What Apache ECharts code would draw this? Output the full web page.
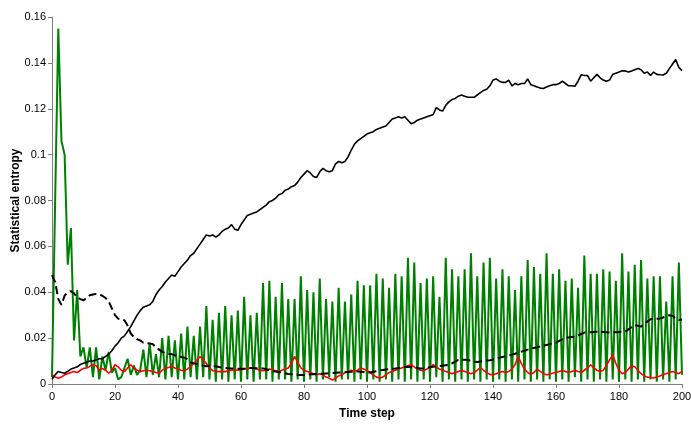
<!DOCTYPE html>
<html>
<head>
<meta charset="utf-8">
<script src="https://cdn.jsdelivr.net/npm/echarts@6/dist/echarts.min.js"></script>
<style>
  html, body { margin: 0; padding: 0; background: #fff; }
  #chart { width: 691px; height: 424px; }
</style>
</head>
<body>
<div id="chart"></div>
<script>
// values read per time step, 0..200
var solidBlack = [
  0.002, 0.004, 0.0055, 0.005, 0.0047, 0.0055, 0.0065, 0.007, 0.0075, 0.0085,
  0.009, 0.0095, 0.010, 0.010, 0.0105, 0.011, 0.011, 0.012, 0.013, 0.0145,
  0.0165, 0.018, 0.020, 0.021, 0.023, 0.025, 0.0275, 0.030, 0.032, 0.0335,
  0.034, 0.0345, 0.036, 0.039, 0.041, 0.0425, 0.0445, 0.046, 0.0475, 0.047,
  0.049, 0.051, 0.0525, 0.054, 0.056, 0.057, 0.059, 0.061, 0.063, 0.065,
  0.0645, 0.065, 0.064, 0.065, 0.0665, 0.0675, 0.068, 0.0695, 0.0675, 0.067,
  0.0695, 0.0715, 0.0735, 0.074, 0.0745, 0.075, 0.076, 0.077, 0.078, 0.0795,
  0.080, 0.081, 0.0825, 0.083, 0.0845, 0.085, 0.086, 0.0865, 0.088, 0.090,
  0.0915, 0.093, 0.092, 0.0905, 0.090, 0.0925, 0.094, 0.093, 0.0925, 0.093,
  0.096, 0.097, 0.0965, 0.097, 0.099, 0.102, 0.1045, 0.106, 0.107, 0.108,
  0.109, 0.1095, 0.110, 0.111, 0.1115, 0.112, 0.1125, 0.114, 0.1155, 0.116,
  0.1165, 0.116, 0.1165, 0.115, 0.1135, 0.114, 0.115, 0.1155, 0.116, 0.1165,
  0.117, 0.1175, 0.1205, 0.1195, 0.119, 0.1215, 0.123, 0.124, 0.1245, 0.1255,
  0.126, 0.1255, 0.125, 0.125, 0.125, 0.126, 0.127, 0.128, 0.1285, 0.130,
  0.1325, 0.133, 0.132, 0.1315, 0.1315, 0.1325, 0.130, 0.131, 0.1305, 0.131,
  0.131, 0.133, 0.1305, 0.130, 0.1295, 0.129, 0.1288, 0.1295, 0.130, 0.1305,
  0.1305, 0.131, 0.132, 0.131, 0.130, 0.130, 0.1298, 0.132, 0.1348, 0.1345,
  0.1345, 0.132, 0.1335, 0.135, 0.1335, 0.1325, 0.132, 0.1325, 0.135, 0.1355,
  0.136, 0.1366, 0.1365, 0.136, 0.1365, 0.137, 0.1375, 0.137, 0.1355, 0.136,
  0.1345, 0.136, 0.135, 0.1348, 0.1347, 0.1355, 0.1375, 0.1395, 0.1415, 0.138,
  0.1366
];
var dashedBlack = [
  0.0475, 0.0445, 0.037, 0.0345, 0.0385, 0.040, 0.0405, 0.0395, 0.0378, 0.037,
  0.0365, 0.0375, 0.0387, 0.039, 0.0393, 0.039, 0.0385, 0.0375, 0.036, 0.033,
  0.030, 0.0285, 0.028, 0.0278, 0.0255, 0.022, 0.0205, 0.0195, 0.019, 0.018,
  0.0178, 0.0176, 0.0174, 0.016, 0.015, 0.014, 0.0135, 0.0132, 0.013, 0.0125,
  0.012, 0.0118, 0.0115, 0.0108, 0.0095, 0.009, 0.0087, 0.0084, 0.008, 0.0077,
  0.0078, 0.0077, 0.0077, 0.0074, 0.0072, 0.007, 0.0069, 0.0068, 0.0067, 0.0066,
  0.0066, 0.0067, 0.0068, 0.007, 0.007, 0.0069, 0.0068, 0.0068, 0.0064, 0.006,
  0.0057, 0.0054, 0.0052, 0.005, 0.0047, 0.0044, 0.0043, 0.0042, 0.004, 0.0039,
  0.0039, 0.004, 0.0042, 0.0043, 0.0044, 0.0045, 0.0045, 0.0046, 0.0047, 0.0048,
  0.0049, 0.005, 0.005, 0.0051, 0.0052, 0.0053, 0.0054, 0.0054, 0.0053, 0.0052,
  0.005, 0.005, 0.0053, 0.0056, 0.0059, 0.0061, 0.0063, 0.0065, 0.0067, 0.0068,
  0.007, 0.0072, 0.0074, 0.0075, 0.0074, 0.0072, 0.007, 0.0068, 0.0069, 0.0071,
  0.0073, 0.0075, 0.0076, 0.0078, 0.008, 0.0082, 0.0083, 0.009, 0.0098, 0.0105,
  0.0106, 0.0106, 0.0105, 0.0101, 0.0097, 0.0096, 0.0098, 0.010, 0.0102, 0.0103,
  0.0107, 0.011, 0.0114, 0.0118, 0.0121, 0.0125, 0.0128, 0.0132, 0.0137, 0.0141,
  0.0145, 0.015, 0.0154, 0.0157, 0.016, 0.0164, 0.0167, 0.017, 0.0174, 0.0177,
  0.018, 0.0188, 0.0195, 0.0202, 0.0203, 0.0205, 0.0206, 0.0212, 0.0218, 0.0224,
  0.0225, 0.0226, 0.0227, 0.0228, 0.0228, 0.0227, 0.0226, 0.0225, 0.0225, 0.0226,
  0.0227, 0.0228, 0.0228, 0.0238, 0.0248, 0.0257, 0.0254, 0.025, 0.0262, 0.0272,
  0.0282, 0.0284, 0.0285, 0.0286, 0.029, 0.0295, 0.030, 0.0298, 0.0285, 0.028,
  0.028
];
var greenLine = [
  0.003, 0.080, 0.155, 0.106, 0.100, 0.052, 0.068, 0.019, 0.041, 0.012,
  0.016, 0.007, 0.016, 0.003, 0.016, 0.002, 0.012, 0.006, 0.014, 0.005,
  0.007, 0.002, 0.003, 0.007, 0.011, 0.004, 0.008, 0.004, 0.006, 0.015,
  0.003, 0.018, 0.004, 0.013, 0.003, 0.020, 0.002, 0.021, 0.003, 0.019,
  0.002, 0.022, 0.002, 0.025, 0.003, 0.021, 0.002, 0.025, 0.003, 0.034,
  0.002, 0.028, 0.001, 0.031, 0.002, 0.034, 0.001, 0.030, 0.002, 0.032,
  0.001, 0.038, 0.002, 0.030, 0.001, 0.031, 0.002, 0.044, 0.002, 0.045,
  0.001, 0.038, 0.002, 0.044, 0.002, 0.037, 0.001, 0.037, 0.002, 0.047,
  0.001, 0.041, 0.002, 0.040, 0.001, 0.046, 0.002, 0.037, 0.003, 0.036,
  0.001, 0.042, 0.002, 0.036, 0.002, 0.039, 0.001, 0.045, 0.002, 0.043,
  0.001, 0.043, 0.002, 0.048, 0.001, 0.046, 0.002, 0.042, 0.001, 0.048,
  0.002, 0.047, 0.001, 0.055, 0.002, 0.053, 0.001, 0.044, 0.002, 0.046,
  0.001, 0.047, 0.003, 0.038, 0.001, 0.055, 0.002, 0.050, 0.001, 0.047,
  0.002, 0.050, 0.001, 0.057, 0.002, 0.047, 0.001, 0.053, 0.002, 0.055,
  0.001, 0.046, 0.002, 0.050, 0.001, 0.047, 0.002, 0.041, 0.001, 0.047,
  0.002, 0.054, 0.001, 0.051, 0.002, 0.048, 0.001, 0.057, 0.002, 0.048,
  0.001, 0.050, 0.002, 0.045, 0.001, 0.046, 0.003, 0.042, 0.001, 0.056,
  0.002, 0.048, 0.001, 0.048, 0.002, 0.050, 0.001, 0.049, 0.002, 0.045,
  0.001, 0.057, 0.002, 0.049, 0.001, 0.052, 0.002, 0.054, 0.001, 0.046,
  0.002, 0.047, 0.001, 0.047, 0.002, 0.036, 0.001, 0.047, 0.002, 0.053,
  0.004
];
var redLine = [
  0.004, 0.003, 0.0025, 0.003, 0.004, 0.0045, 0.005, 0.0055, 0.005, 0.006,
  0.0068, 0.007, 0.0077, 0.0084, 0.008, 0.006, 0.0068, 0.006, 0.0047, 0.006,
  0.0084, 0.0075, 0.006, 0.0054, 0.007, 0.0084, 0.007, 0.006, 0.0054, 0.0058,
  0.006, 0.0058, 0.0054, 0.005, 0.0047, 0.006, 0.0068, 0.0072, 0.0077, 0.007,
  0.0065, 0.006, 0.0058, 0.0065, 0.0077, 0.009, 0.0105, 0.0119, 0.0105, 0.009,
  0.007, 0.0058, 0.0055, 0.0054, 0.0055, 0.0054, 0.0058, 0.006, 0.0062, 0.006,
  0.0062, 0.0065, 0.0068, 0.007, 0.0068, 0.0065, 0.006, 0.0058, 0.006, 0.0065,
  0.0062, 0.0058, 0.0055, 0.006, 0.0065, 0.007, 0.009, 0.012, 0.0095, 0.007,
  0.006, 0.0055, 0.005, 0.0045, 0.004, 0.0045, 0.004, 0.003, 0.0025, 0.0017,
  0.0025, 0.0035, 0.004, 0.005, 0.0055, 0.006, 0.0055, 0.006, 0.007, 0.0065,
  0.0058, 0.005, 0.004, 0.003, 0.0026, 0.003, 0.004, 0.005, 0.0055, 0.006,
  0.0065, 0.007, 0.0075, 0.008, 0.0084, 0.0075, 0.0065, 0.006, 0.0058, 0.0065,
  0.0075, 0.0084, 0.0075, 0.0065, 0.006, 0.0055, 0.005, 0.0045, 0.005, 0.0055,
  0.006, 0.0055, 0.005, 0.0045, 0.005, 0.006, 0.0072, 0.006, 0.005, 0.0042,
  0.004, 0.0045, 0.005, 0.0055, 0.005, 0.0055, 0.0065, 0.0085, 0.012, 0.009,
  0.0065, 0.005, 0.0042, 0.005, 0.0065, 0.0055, 0.0045, 0.004, 0.0042, 0.0048,
  0.005, 0.0055, 0.006, 0.0055, 0.005, 0.0055, 0.006, 0.0055, 0.005, 0.006,
  0.007, 0.0084, 0.007, 0.006, 0.0055, 0.006, 0.008, 0.0105, 0.0126, 0.009,
  0.006, 0.0045, 0.005, 0.0065, 0.008, 0.0075, 0.006, 0.0045, 0.0035, 0.003,
  0.0028, 0.0026, 0.003, 0.0035, 0.0042, 0.0045, 0.005, 0.0055, 0.005, 0.0045,
  0.0055
];

function pairs(values) {
  return values.map(function (v, i) { return [i, v]; });
}

var chart = echarts.init(document.getElementById('chart'));
var axisColor = '#808080';
var labelFont = { color: '#000', fontSize: 11, fontFamily: 'Liberation Sans, Arial, sans-serif' };
var nameFont = { color: '#000', fontSize: 12, fontWeight: 'bold', fontFamily: 'Liberation Sans, Arial, sans-serif' };

chart.setOption({
  animation: false,
  backgroundColor: '#fff',
  grid: { left: 52, right: 9, top: 17, bottom: 40, containLabel: false, outerBoundsMode: 'none' },
  xAxis: {
    type: 'value',
    min: 0, max: 200, interval: 20,
    name: 'Time step',
    nameLocation: 'middle',
    nameGap: 24,
    nameMoveOverlap: false,
    nameTextStyle: nameFont,
    axisLine: { show: true, lineStyle: { color: axisColor, width: 1 } },
    axisTick: { show: true, length: 4, lineStyle: { color: axisColor } },
    axisLabel: Object.assign({ margin: 7 }, labelFont),
    splitLine: { show: false }
  },
  yAxis: {
    type: 'value',
    min: 0, max: 0.16, interval: 0.02,
    name: 'Statistical entropy',
    nameLocation: 'middle',
    nameGap: 30,
    nameMoveOverlap: false,
    nameRotate: 90,
    nameTextStyle: nameFont,
    axisLine: { show: true, lineStyle: { color: axisColor, width: 1 } },
    axisTick: { show: true, length: 4, lineStyle: { color: axisColor } },
    axisLabel: Object.assign({ margin: 6 }, labelFont),
    splitLine: { show: false }
  },
  series: [
    {
      type: 'line', data: pairs(greenLine), showSymbol: false, symbol: 'none',
      lineStyle: { color: '#008000', width: 2 }, z: 2
    },
    {
      type: 'line', data: pairs(redLine), showSymbol: false, symbol: 'none',
      lineStyle: { color: '#ff0000', width: 1.6 }, z: 3
    },
    {
      type: 'line', data: pairs(dashedBlack), showSymbol: false, symbol: 'none',
      lineStyle: { color: '#000', width: 2, type: [8, 4] }, z: 4
    },
    {
      type: 'line', data: pairs(solidBlack), showSymbol: false, symbol: 'none',
      lineStyle: { color: '#000', width: 1.6 }, z: 5
    }
  ]
});
</script>
</body>
</html>
